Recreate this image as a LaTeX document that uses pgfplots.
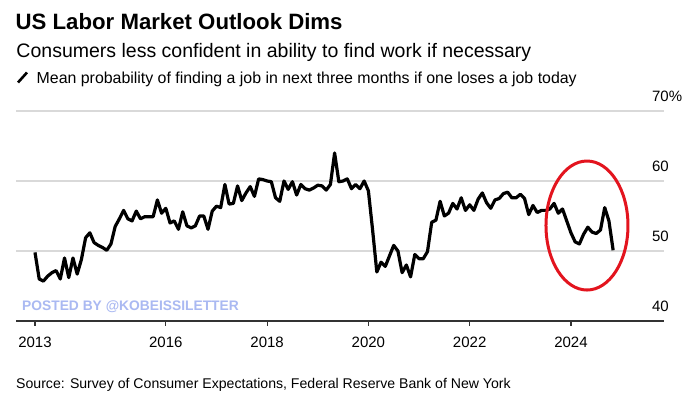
\documentclass[border=0pt]{standalone}
\usepackage{fontspec}
\setmainfont{Liberation Sans}
\usepackage{pgfplots}
\pgfplotsset{compat=1.18}
\usepackage{pgfplotstable}
\definecolor{gridgray}{HTML}{D9D9D9}
\definecolor{axisgray}{HTML}{333333}
\definecolor{wm}{HTML}{AAB9F2}
\definecolor{circred}{HTML}{E3141E}

\pgfplotstableread{
m v
0 49.8
1 46.0
2 45.7
3 46.4
4 46.9
5 47.2
6 46.0
7 49.0
8 46.2
9 49.0
10 46.7
11 48.8
12 51.9
13 52.6
14 51.2
15 50.8
16 50.5
17 50.1
18 51.0
19 53.5
20 54.6
21 55.8
22 54.6
23 54.3
24 55.7
25 54.6
26 54.9
27 54.9
28 54.9
29 57.3
30 55.4
31 56.1
32 54.0
33 54.3
34 53.1
35 55.6
36 53.6
37 53.3
38 53.6
39 55.0
40 55.0
41 53.1
42 55.7
43 56.4
44 56.2
45 59.5
46 56.7
47 56.8
48 59.3
49 57.2
50 58.3
51 59.2
52 57.8
53 60.3
54 60.2
55 60.0
56 59.9
57 57.6
58 57.1
59 60.0
60 58.8
61 59.9
62 58.0
63 59.5
64 58.9
65 58.7
66 59.0
67 59.4
68 59.3
69 58.7
70 59.5
71 64.0
72 59.9
73 60.0
74 60.3
75 58.9
76 59.5
77 58.9
78 60.0
79 58.6
80 53.0
81 47.0
82 48.4
83 47.8
84 49.3
85 50.8
86 50.0
87 46.9
88 48.0
89 46.3
90 49.5
91 48.9
92 48.9
93 49.9
94 54.1
95 54.4
96 57.1
97 55.0
98 55.4
99 56.8
100 56.0
101 57.6
102 55.8
103 56.6
104 55.8
105 57.4
106 58.3
107 56.9
108 56.1
109 57.3
110 57.5
111 58.2
112 58.4
113 57.6
114 57.6
115 58.1
116 57.5
117 55.2
118 56.5
119 55.5
120 55.8
121 55.8
122 56.0
123 56.8
124 55.4
125 56.0
126 54.3
127 52.6
128 51.3
129 51.0
130 52.4
131 53.4
132 52.7
133 52.5
134 53.0
135 56.2
136 54.3
137 50.1
}\datatable

\begin{document}
\begin{tikzpicture}
\path[use as bounding box, fill=white] (0,0) rectangle (690bp,408bp);
\node[anchor=base west, inner sep=0, font=\bfseries\fontsize{22.2bp}{25bp}\selectfont] at (15.5bp,378.7bp) {US Labor Market Outlook Dims};
\node[anchor=base west, inner sep=0, font=\fontsize{19.5bp}{22bp}\selectfont] at (16.3bp,350.7bp) {Consumers less confident in ability to find work if necessary};
\draw[black, line width=2.6bp] (18bp,325.5bp) -- (27bp,335.5bp);
\node[anchor=base west, inner sep=0, font=\fontsize{15.9bp}{18bp}\selectfont] at (36.5bp,324.7bp) {Mean probability of finding a job in next three months if one loses a job today};
\node[anchor=base west, inner sep=0, font=\fontsize{14.1bp}{16bp}\selectfont] at (16bp,19.7bp) {Source: Survey of Consumer Expectations, Federal Reserve Bank of New York};
\node[anchor=base west, inner sep=0, text=wm, font=\bfseries\fontsize{13.8bp}{15bp}\selectfont] at (22bp,97.3bp) {POSTED BY @KOBEISSILETTER};
\begin{axis}[
  at={(16bp,87bp)}, anchor=south west,
  scale only axis, width=648bp, height=210bp,
  xmin=-4.5, xmax=149.05, ymin=40, ymax=70,
  axis x line*=bottom, axis y line*=right,
  y axis line style={draw=none},
  x axis line style={-, draw=axisgray, line width=1.3bp},
  xtick={0,31,55,79,103,127}, xticklabels={2013,2016,2018,2020,2022,2024},
  ytick={40,50,60,70}, yticklabels={40,50,60,{70\rlap{\%}}},
  tick align=outside, major tick length=5bp,
  xtick style={draw=axisgray, line width=1.2bp},
  ytick style={draw=none},
  ymajorgrids, grid style={draw=gridgray, line width=1.3bp},
  tick label style={font=\fontsize{15bp}{17bp}\selectfont, inner sep=0pt},
  xticklabel style={anchor=base, yshift=-21.7bp},
  yticklabel style={anchor=base east, yshift=9.8bp},
  clip=false,
  /pgf/number format/assume math mode=true,
]
\addplot[black, line width=3.2bp, line join=round, no marks] table[x=m,y=v]{\datatable};
\draw[circred, line width=3bp] (axis cs:130.8,53.64) ellipse [x radius=41bp, y radius=64.5bp];
\end{axis}
\end{tikzpicture}
\end{document}
